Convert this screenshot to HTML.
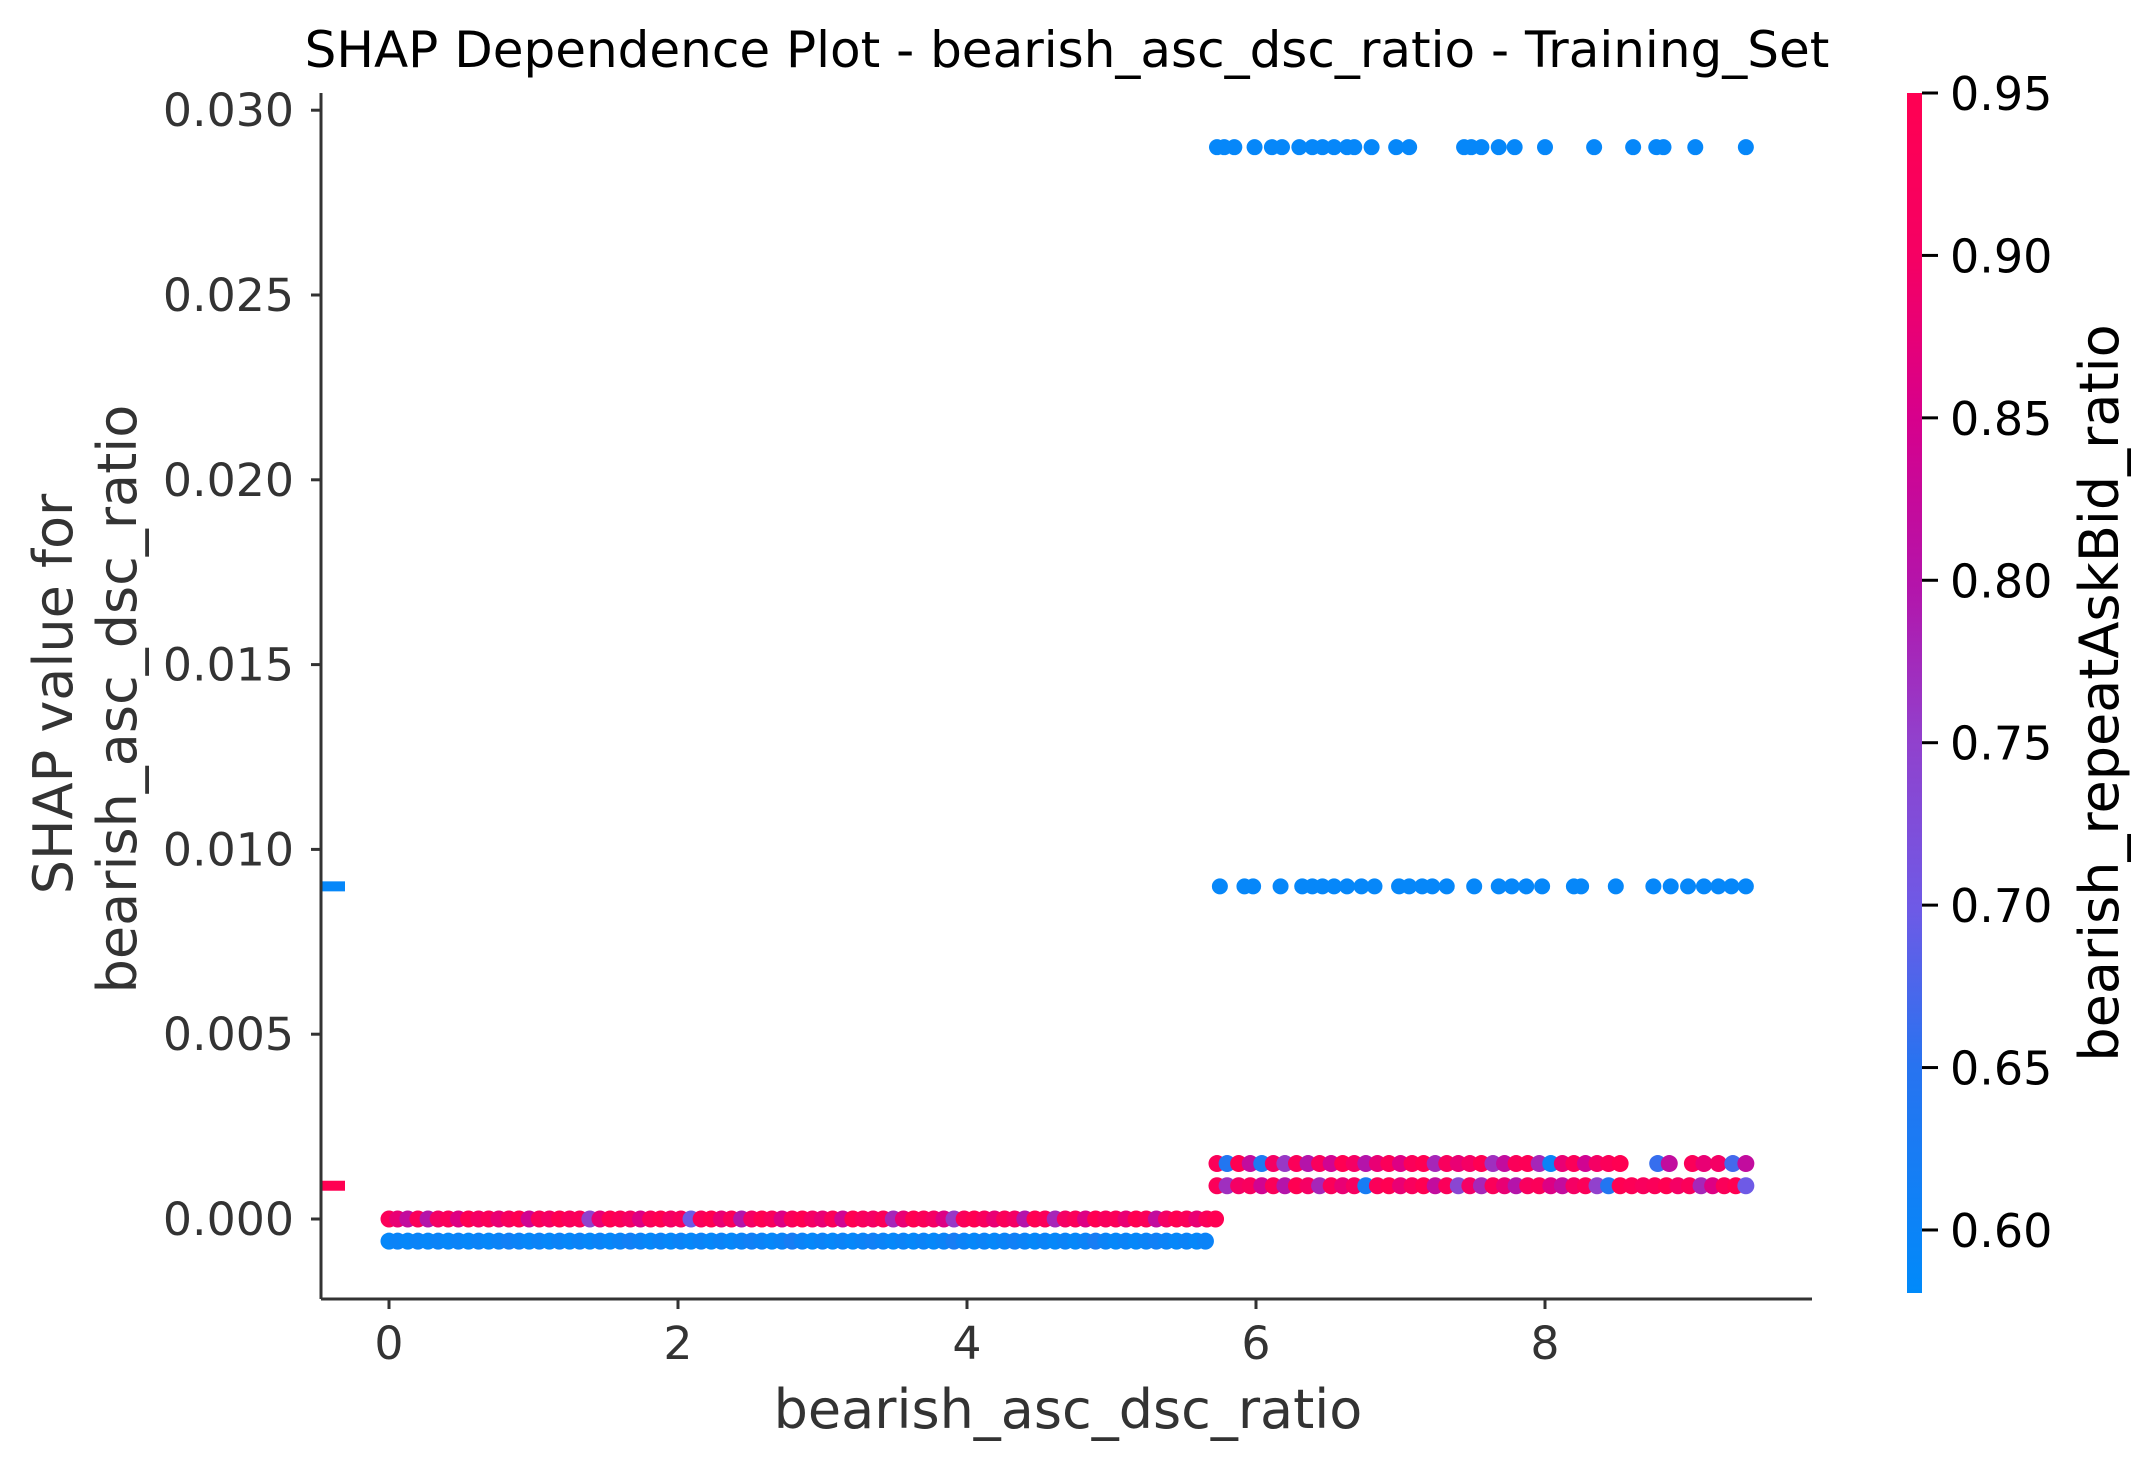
<!DOCTYPE html>
<html><head><meta charset="utf-8"><style>
html,body{margin:0;padding:0;background:#fff;}
svg{display:block;font-family:"DejaVu Sans","Liberation Sans",sans-serif;}
</style></head><body>
<svg id="chart" width="2153" height="1471" viewBox="0 0 2153 1471">
<text x="1067" y="67" font-size="50" text-anchor="middle" fill="#000">SHAP Dependence Plot - bearish_asc_dsc_ratio - Training_Set</text>
<g id="plot"></g>
<g id="axes"></g>
<text x="1068" y="1428" font-size="54" text-anchor="middle" fill="#333">bearish_asc_dsc_ratio</text>
<text transform="translate(72,694) rotate(-90)" font-size="54" text-anchor="middle" fill="#333">SHAP value for</text>
<text transform="translate(136,699) rotate(-90)" font-size="54" text-anchor="middle" fill="#333">bearish_asc_dsc_ratio</text>
<defs><linearGradient id="cbg" x1="0" y1="1" x2="0" y2="0">
<stop offset="0" stop-color="rgb(0,138,250)"/><stop offset="0.19" stop-color="rgb(40,115,240)"/>
<stop offset="0.32" stop-color="rgb(110,90,230)"/><stop offset="0.46" stop-color="rgb(145,65,205)"/>
<stop offset="0.59" stop-color="rgb(180,20,170)"/><stop offset="0.73" stop-color="rgb(215,0,140)"/>
<stop offset="0.86" stop-color="rgb(245,0,100)"/><stop offset="1" stop-color="rgb(255,0,82)"/>
</linearGradient></defs>
<rect x="1907" y="93" width="15" height="1200" fill="url(#cbg)"/>
<g id="cbticks"></g>
<text transform="translate(2118,693) rotate(-90)" font-size="54" text-anchor="middle" fill="#000">bearish_repeatAskBid_ratio</text>
</svg>
<script>
const xTicks=[0,2,4,6,8];
const yTicks=[0,0.005,0.010,0.015,0.020,0.025,0.030];
const yTickLabels=["0.000","0.005","0.010","0.015","0.020","0.025","0.030"];
const cbTicks=[0.60,0.65,0.70,0.75,0.80,0.85,0.90,0.95];
const xsTop=[5.73,5.78,5.85,5.99,6.11,6.18,6.30,6.39,6.46,6.54,6.63,6.68,6.80,6.97,7.06,7.44,7.49,7.56,7.68,7.79,8.00,8.34,8.61,8.77,8.82,9.04,9.39];
const xsMid=[5.75,5.92,5.98,6.17,6.32,6.39,6.46,6.54,6.63,6.73,6.82,6.99,7.06,7.15,7.22,7.32,7.51,7.68,7.77,7.87,7.98,8.20,8.25,8.49,8.75,8.87,8.99,9.10,9.20,9.29,9.39];
const xsHi1=[5.73,5.8,5.88,5.96,6.04,6.12,6.2,6.28,6.36,6.44,6.52,6.6,6.68,6.76,6.84,6.92,7.0,7.08,7.16,7.24,7.32,7.4,7.48,7.56,7.64,7.72,7.8,7.88,7.96,8.04,8.12,8.2,8.28,8.36,8.44,8.52,8.78,8.86,9.02,9.1,9.2,9.3,9.39];
const colHi1=[0.93,0.64,0.95,0.82,0.63,0.9,0.76,0.93,0.8,0.92,0.84,0.95,0.9,0.8,0.88,0.93,0.86,0.93,0.95,0.78,0.92,0.88,0.9,0.95,0.77,0.82,0.93,0.94,0.78,0.6,0.88,0.93,0.84,0.9,0.93,0.95,0.66,0.82,0.93,0.88,0.9,0.67,0.82];
const xsHi2=[5.73,5.8,5.88,5.96,6.04,6.12,6.2,6.28,6.36,6.44,6.52,6.6,6.68,6.76,6.84,6.92,7.0,7.08,7.16,7.24,7.32,7.4,7.48,7.56,7.64,7.72,7.8,7.88,7.96,8.04,8.12,8.2,8.28,8.36,8.44,8.52,8.6,8.68,8.76,8.84,8.92,9.0,9.08,9.16,9.24,9.32,9.39];
const colHi2=[0.93,0.77,0.9,0.92,0.84,0.93,0.8,0.95,0.9,0.78,0.93,0.88,0.91,0.62,0.93,0.95,0.88,0.92,0.95,0.82,0.93,0.74,0.9,0.78,0.93,0.88,0.8,0.92,0.93,0.86,0.82,0.9,0.93,0.75,0.64,0.95,0.94,0.92,0.93,0.95,0.9,0.93,0.78,0.86,0.93,0.95,0.7];
const xsZero=[0,0.06,0.13,0.2,0.27,0.34,0.41,0.48,0.55,0.62,0.69,0.76,0.83,0.9,0.97,1.04,1.11,1.18,1.25,1.32,1.39,1.46,1.53,1.6,1.67,1.74,1.81,1.88,1.95,2.02,2.09,2.16,2.23,2.3,2.37,2.44,2.51,2.58,2.65,2.72,2.79,2.86,2.93,3.0,3.07,3.14,3.21,3.28,3.35,3.42,3.49,3.56,3.63,3.7,3.77,3.84,3.91,3.98,4.05,4.12,4.19,4.26,4.33,4.4,4.47,4.54,4.61,4.68,4.75,4.82,4.89,4.96,5.03,5.1,5.17,5.24,5.31,5.38,5.45,5.52,5.59,5.66,5.72];
const colZero=[0.93,0.88,0.82,0.93,0.8,0.9,0.93,0.86,0.95,0.9,0.93,0.88,0.92,0.95,0.84,0.93,0.9,0.95,0.92,0.93,0.75,0.88,0.95,0.93,0.9,0.86,0.93,0.95,0.9,0.92,0.7,0.93,0.95,0.88,0.93,0.8,0.9,0.95,0.92,0.86,0.93,0.95,0.9,0.88,0.93,0.84,0.95,0.92,0.9,0.93,0.78,0.88,0.95,0.93,0.9,0.86,0.76,0.93,0.95,0.92,0.88,0.93,0.9,0.8,0.95,0.93,0.78,0.9,0.93,0.86,0.95,0.92,0.93,0.88,0.95,0.93,0.82,0.9,0.95,0.93,0.88,0.93,0.95];
const xsNeg=[0,0.06,0.13,0.2,0.27,0.34,0.41,0.48,0.55,0.62,0.69,0.76,0.83,0.9,0.97,1.04,1.11,1.18,1.25,1.32,1.39,1.46,1.53,1.6,1.67,1.74,1.81,1.88,1.95,2.02,2.09,2.16,2.23,2.3,2.37,2.44,2.51,2.58,2.65,2.72,2.79,2.86,2.93,3.0,3.07,3.14,3.21,3.28,3.35,3.42,3.49,3.56,3.63,3.7,3.77,3.84,3.91,3.98,4.05,4.12,4.19,4.26,4.33,4.4,4.47,4.54,4.61,4.68,4.75,4.82,4.89,4.96,5.03,5.1,5.17,5.24,5.31,5.38,5.45,5.52,5.59,5.65];
const colNeg=[0.59,0.6,0.59,0.6,0.59,0.6,0.59,0.6,0.59,0.6,0.59,0.6,0.61,0.6,0.59,0.6,0.59,0.6,0.59,0.6,0.59,0.6,0.59,0.6,0.61,0.6,0.59,0.6,0.59,0.6,0.59,0.6,0.59,0.6,0.59,0.6,0.61,0.6,0.59,0.6,0.62,0.6,0.59,0.6,0.59,0.6,0.59,0.6,0.61,0.6,0.59,0.6,0.59,0.6,0.59,0.6,0.62,0.6,0.59,0.6,0.59,0.6,0.61,0.6,0.59,0.6,0.59,0.6,0.59,0.6,0.62,0.6,0.59,0.6,0.59,0.6,0.61,0.6,0.59,0.6,0.59,0.6];
const yTop=0.029, yMid=0.009, yHi1=0.0015, yHi2=0.0009, yZero=0, yNeg=-0.0006;
const nanBlueY=0.009, nanRedY=0.0009;

const NS="http://www.w3.org/2000/svg";
const X0=389, XU=144.5, Y0=1219, YU=36960;
function sx(v){return X0+v*XU;}
function sy(v){return Y0-v*YU;}
const CBTOP=93, CBBOT=1293, CBMIN=0.5806, CBMAX=0.95;
function cy(v){return CBBOT-(v-CBMIN)/(CBMAX-CBMIN)*(CBBOT-CBTOP);}
const stops=[[0.58,0,138,250],[0.65,40,115,240],[0.70,110,90,230],[0.75,145,65,205],[0.80,180,20,170],[0.85,215,0,140],[0.90,245,0,100],[0.95,255,0,82]];
function cmap(v){
  if(v<=stops[0][0])return `rgb(${stops[0][1]},${stops[0][2]},${stops[0][3]})`;
  for(let i=1;i<stops.length;i++){if(v<=stops[i][0]){const a=stops[i-1],b=stops[i];const t=(v-a[0])/(b[0]-a[0]);
    return `rgb(${Math.round(a[1]+t*(b[1]-a[1]))},${Math.round(a[2]+t*(b[2]-a[2]))},${Math.round(a[3]+t*(b[3]-a[3]))})`;}}
  const l=stops[stops.length-1];return `rgb(${l[1]},${l[2]},${l[3]})`;
}
const plot=document.getElementById('plot');
function dot(x,y,c,name,r){
  const el=document.createElementNS(NS,'circle');
  el.setAttribute('cx',sx(x));el.setAttribute('cy',sy(y));el.setAttribute('r',r||8);el.setAttribute('fill',c);
  
  
  plot.appendChild(el);
}
xsNeg.forEach((x,i)=>dot(x,yNeg,cmap(colNeg[i]),'point-negative-row',8.5));
xsZero.forEach((x,i)=>dot(x,yZero,cmap(colZero[i]),'point-zero-row',8.5));
xsHi2.forEach((x,i)=>dot(x,yHi2,cmap(colHi2[i]),'point-low-row',8.5));
xsHi1.forEach((x,i)=>dot(x,yHi1,cmap(colHi1[i]),'point-upper-low-row',8.5));
xsMid.forEach(x=>dot(x,yMid,cmap(0.59),'point-mid-row'));
xsTop.forEach(x=>dot(x,yTop,cmap(0.59),'point-top-row'));
function nanBar(y,c,name){
  const r=document.createElementNS(NS,'rect');
  r.setAttribute('x',321);r.setAttribute('y',sy(y)-5);r.setAttribute('width',24);r.setAttribute('height',10);r.setAttribute('fill',c);
  
  
  plot.appendChild(r);
}
nanBar(nanBlueY,cmap(0.59),'nan-marker-blue');
nanBar(nanRedY,cmap(0.95),'nan-marker-red');

const axes=document.getElementById('axes');
function line(x1,y1,x2,y2,name,w){
  const l=document.createElementNS(NS,'line');
  l.setAttribute('x1',x1);l.setAttribute('y1',y1);l.setAttribute('x2',x2);l.setAttribute('y2',y2);
  l.setAttribute('stroke','#333');l.setAttribute('stroke-width',w||3);
  
  
  axes.appendChild(l);
}
function txt(parent,x,y,s,anchor,size,fill,name){
  const t=document.createElementNS(NS,'text');
  t.setAttribute('x',x);t.setAttribute('y',y);t.setAttribute('text-anchor',anchor);t.setAttribute('font-size',size);t.setAttribute('fill',fill);
  t.textContent=s;
  
  
  parent.appendChild(t);
}
line(321,93,321,1299,'y-axis-line');
line(321,1299,1812,1299,'x-axis-line');
yTicks.forEach((v,i)=>{line(311,sy(v),321,sy(v),'y-tick');txt(axes,294,sy(v)+16,yTickLabels[i],'end',45.8,'#333','y-tick-label');});
xTicks.forEach(v=>{line(sx(v),1299,sx(v),1309,'x-tick');txt(axes,sx(v),1359,String(v),'middle',45.8,'#333','x-tick-label');});
const cbg=document.getElementById('cbticks');
cbTicks.forEach(v=>{
  const l=document.createElementNS(NS,'line');
  l.setAttribute('x1',1922);l.setAttribute('x2',1938);l.setAttribute('y1',cy(v));l.setAttribute('y2',cy(v));l.setAttribute('stroke','#000');l.setAttribute('stroke-width',3);
  
  
  cbg.appendChild(l);
  txt(cbg,1950,cy(v)+17,v.toFixed(2),'start',46,'#000','colorbar-tick-label');
});
</script>
</body></html>
